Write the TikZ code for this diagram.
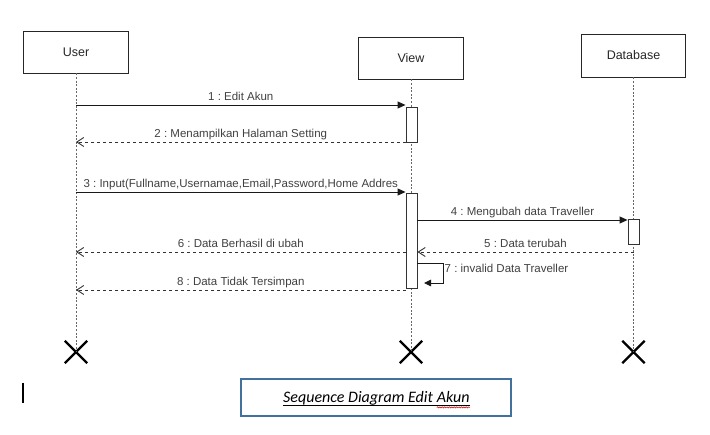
\documentclass[tikz,border=0pt]{standalone}
\usepackage{fontspec}
\setmainfont{Liberation Sans}
\newfontfamily\capfont{Carlito}
\usetikzlibrary{arrows.meta,shapes.misc,decorations.pathmorphing}

\definecolor{linegray}{HTML}{333333}
\definecolor{textgray}{HTML}{404040}
\definecolor{capblue}{HTML}{41719C}

\tikzset{
  objbox/.style={draw=black!85,line width=0.9pt,minimum width=105pt,minimum height=42pt,inner sep=0pt,font=\fontsize{12.5}{14}\selectfont,text=black!85},
  lifeline/.style={draw=gray!80!black,dash pattern=on 2pt off 1.6pt,line width=0.9pt},
  actbox/.style={draw=linegray,fill=white,minimum width=11pt,inner sep=0pt,line width=0.9pt},
  callmsg/.style={draw=black!90,line width=0.9pt,-{Triangle[length=8pt,width=7pt]}},
  retmsg/.style={draw=linegray,line width=0.9pt,dash pattern=on 3pt off 3pt,-{Straight Barb[length=7pt,width=9pt]}},
  msglabel/.style={font=\frenchspacing\fontsize{11.5}{13}\selectfont,text=textgray,inner sep=2pt,text height=8.3pt,text depth=2.4pt},
  endmark/.style={cross out,draw=black,line width=2.4pt,minimum size=20pt,inner sep=0pt},
  captext/.style={font=\capfont\itshape\fontsize{16}{18}\selectfont,inner sep=0pt},
}

\begin{document}
\begin{tikzpicture}
[x=1pt,y=-1pt]
\useasboundingbox (0,0) rectangle (710,435);

% objects
\node[objbox] (user) at (76,52) {User};
\node[objbox] (view) at (411,58) {View};
\node[objbox,minimum width=104pt,minimum height=43pt] (db) at (633.5,55.5) {Database};

\node[endmark] (userend) at (76,352) {};
\node[endmark] (viewend) at (411,352) {};
\node[endmark] (dbend) at (633.5,352) {};

% lifelines
\draw[lifeline] (user) -- (userend.center);
\draw[lifeline] (view) -- (viewend.center);
\draw[lifeline] (db) -- (dbend.center);

% activations
\node[actbox,minimum height=35pt] (act1) at (411.5,124.5) {};
\node[actbox,minimum height=95pt] (act2) at (411.5,240.5) {};
\node[actbox,minimum height=25pt] (act3) at (633.5,231.5) {};

% message levels
\coordinate (m1) at (0,105);
\coordinate (m2) at (0,142);
\coordinate (m3) at (0,192);
\coordinate (m4) at (0,220);
\coordinate (m5) at (0,252);
\coordinate (m8) at (0,290);

\draw[callmsg] (user |- m1) -- (act1.west |- m1)
  node[msglabel,midway,above] {1 : Edit Akun};
\draw[retmsg] (act1.west |- m2) -- (user |- m2)
  node[msglabel,midway,above] {2 : Menampilkan Halaman Setting};
\draw[callmsg] (user |- m3) -- (act2.west |- m3)
  node[msglabel,midway,above] {3 : Input(Fullname,Usernamae,Email,Password,Home Addres};
\draw[callmsg] (act2.east |- m4) -- (act3.west |- m4)
  node[msglabel,midway,above] {4 : Mengubah data Traveller};
\draw[retmsg] (db |- m5) -- (act2.east |- m5)
  node[msglabel,midway,above] {5 : Data terubah};
\draw[retmsg] (act2.west |- m5) -- (user |- m5)
  node[msglabel,midway,above] {6 : Data Berhasil di ubah};

% self call
\coordinate (self7a) at (443,263);
\coordinate (self7b) at (443,283);
\coordinate (self7c) at (424,283);
\draw[callmsg,-{Triangle[length=7pt,width=6.5pt]}] (act2.east |- self7a) -- (self7a) -- (self7b) -- (self7c);
\node[msglabel,anchor=west,inner sep=1.5pt] (lab7) at (443,270) {7 : invalid Data Traveller};

\draw[retmsg] (act2.west |- m8) -- (user |- m8)
  node[msglabel,midway,above] {8 : Data Tidak Tersimpan};

% caption
\node[draw=capblue,line width=1.6pt,minimum width=270pt,minimum height=37pt] (caption) at (376,397.5) {};
\node[captext,anchor=base west] (captxt) at (283,403) {Sequence Diagram Edit};
\node[captext,anchor=base west] (capakun) at ([xshift=3.6pt]captxt.base east) {Akun};
\draw[line width=0.7pt] ([yshift=-2.6pt]captxt.base west) -- ([yshift=-2.6pt]capakun.base east);
\draw[red!85!black,line width=0.5pt,decorate,decoration={snake,amplitude=0.6pt,segment length=2.4pt}]
  ([yshift=-4.4pt]capakun.base west) -- ([yshift=-4.4pt]capakun.base east);

\draw[line width=1.4pt] (23,383) -- (23,403);
\end{tikzpicture}
\end{document}
